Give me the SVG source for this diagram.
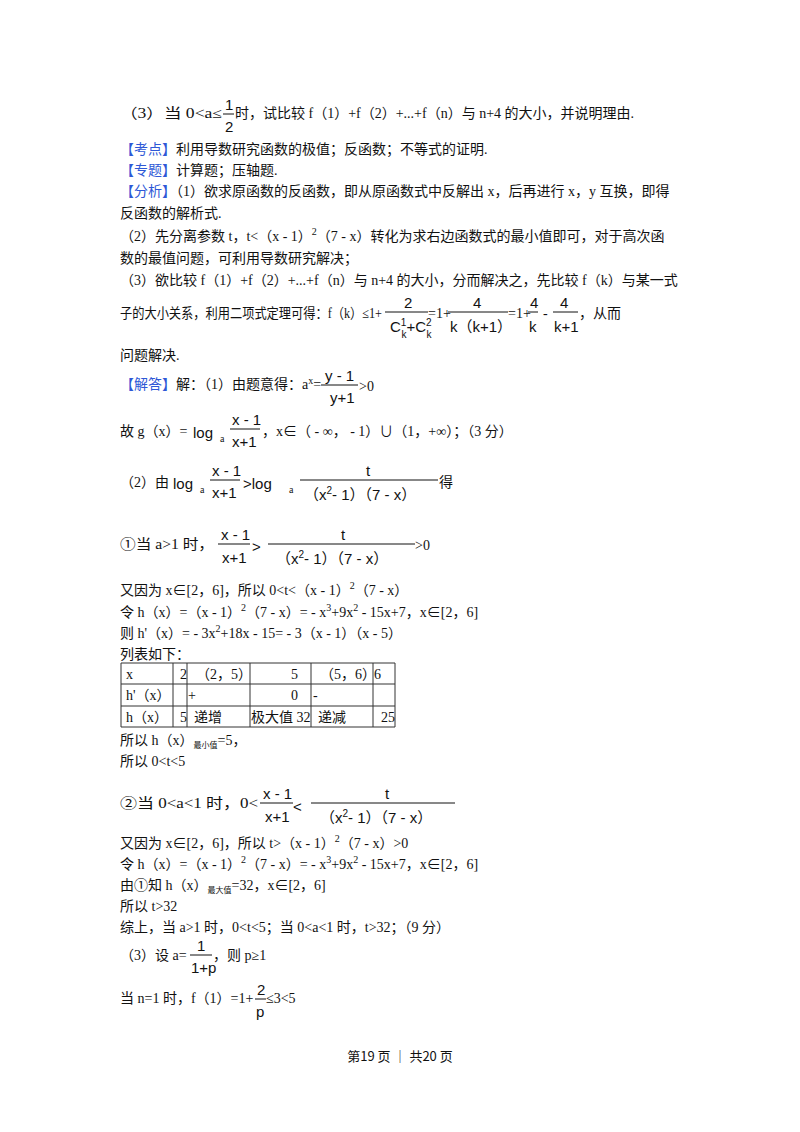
<svg xmlns="http://www.w3.org/2000/svg" width="800" height="1132" viewBox="0 0 800 1132">
<style>
text{font-family:"Liberation Serif","Noto Sans CJK SC",serif;font-size:14px;fill:#111}
.b{fill:#2e58d6}
.s{font-size:10px}
.t{font-size:8px}
.f{font-family:"Liberation Sans","Noto Sans CJK SC",sans-serif;font-size:15px}
line{stroke:#111;stroke-width:1}
.tb line{stroke:#333}
</style>
<rect width="800" height="1132" fill="#fff"/>
<text x="120" y="118" textLength="102" lengthAdjust="spacingAndGlyphs">（3）当 0&lt;a≤</text><text x="225" y="110" class="f">1</text><line x1="223" y1="114" x2="234" y2="114"/><text x="225" y="132" class="f">2</text><text x="235" y="118">时，试比较 f（1）+f（2）+...+f（n）与 n+4 的大小，并说明理由.</text>
<text x="120" y="154"><tspan class="b">【考点】</tspan>利用导数研究函数的极值；反函数；不等式的证明.</text>
<text x="120" y="175"><tspan class="b">【专题】</tspan>计算题；压轴题.</text>
<text x="120" y="196"><tspan class="b">【分析】</tspan>（1）欲求原函数的反函数，即从原函数式中反解出 x，后再进行 x，y 互换，即得</text>
<text x="120" y="218">反函数的解析式.</text>
<text x="120" y="241">（2）先分离参数 t，t&lt;（x - 1）<tspan class="s" dy="-6">2</tspan><tspan dy="6">（7 - x）转化为求右边函数式的最小值即可，对于高次函</tspan></text>
<text x="120" y="263">数的最值问题，可利用导数研究解决；</text>
<text x="120" y="285">（3）欲比较 f（1）+f（2）+...+f（n）与 n+4 的大小，分而解决之，先比较 f（k）与某一式</text>
<text x="120" y="318" textLength="262" lengthAdjust="spacingAndGlyphs">子的大小关系，利用二项式定理可得：f（k）≤1+</text>
<text x="404" y="308" class="f">2</text><line x1="385" y1="312" x2="428" y2="312"/><text x="390" y="332" class="f">C<tspan class="s" dy="-6">1</tspan><tspan class="s" dx="-5" dy="12">k</tspan><tspan dy="-6">+C</tspan><tspan class="s" dy="-6">2</tspan><tspan class="s" dx="-5" dy="12">k</tspan></text>
<text x="428" y="318">=1+</text><text x="473" y="308" class="f">4</text><line x1="448" y1="312" x2="508" y2="312"/><text x="450" y="332" class="f">k（k+1）</text>
<text x="508" y="318">=1+</text><text x="530" y="308" class="f">4</text><line x1="528" y1="312" x2="538" y2="312"/><text x="529" y="332" class="f">k</text>
<text x="543" y="318">-</text><text x="560" y="308" class="f">4</text><line x1="553" y1="312" x2="578" y2="312"/><text x="554" y="332" class="f">k+1</text>
<text x="579" y="318">，从而</text>
<text x="120" y="360">问题解决.</text>
<text x="120" y="389"><tspan class="b">【解答】</tspan>解：（1）由题意得：a<tspan class="s" dy="-5">x</tspan><tspan dy="5">=</tspan></text>
<text x="325" y="381" class="f">y - 1</text><line x1="321" y1="385" x2="358" y2="385"/><text x="330" y="403" class="f">y+1</text><text x="359" y="391">&gt;0</text>
<text x="120" y="436">故 g（x）=</text><text x="193" y="438" class="f">log</text><text x="220" y="442" class="s">a</text><text x="232" y="425" class="f">x - 1</text><line x1="230" y1="429" x2="260" y2="429"/><text x="232" y="447" class="f">x+1</text>
<text x="262" y="436">，x∈（ - ∞， - 1）∪（1，+∞）；（3 分）</text>
<text x="120" y="487">（2）由</text><text x="173" y="489" class="f">log</text><text x="200" y="493" class="s">a</text><text x="212" y="476" class="f">x - 1</text><line x1="210" y1="480" x2="240" y2="480"/><text x="212" y="498" class="f">x+1</text>
<text x="243" y="489" class="f">&gt;log</text><text x="289" y="493" class="s">a</text><text x="366" y="476" class="f">t</text><line x1="300" y1="480" x2="438" y2="480"/><text x="304" y="500" class="f">（x<tspan class="s" dy="-6">2</tspan><tspan dy="6">- 1）（7 - x）</tspan></text><text x="439" y="487">得</text>
<text x="120" y="549" textLength="94" lengthAdjust="spacingAndGlyphs">①当 a&gt;1 时，</text><text x="221" y="540" class="f">x - 1</text><line x1="218" y1="544" x2="250" y2="544"/><text x="222" y="563" class="f">x+1</text>
<text x="252" y="552" class="f">&gt;</text><text x="341" y="540" class="f">t</text><line x1="268" y1="544" x2="415" y2="544"/><text x="276" y="564" class="f">（x<tspan class="s" dy="-6">2</tspan><tspan dy="6">- 1）（7 - x）</tspan></text><text x="415" y="550">&gt;0</text>
<text x="120" y="595">又因为 x∈[2，6]，所以 0&lt;t&lt;（x - 1）<tspan class="s" dy="-6">2</tspan><tspan dy="6">（7 - x）</tspan></text>
<text x="120" y="617">令 h（x）=（x - 1）<tspan class="s" dy="-6">2</tspan><tspan dy="6">（7 - x）= - x</tspan><tspan class="s" dy="-6">3</tspan><tspan dy="6">+9x</tspan><tspan class="s" dy="-6">2</tspan><tspan dy="6"> - 15x+7，x∈[2，6]</tspan></text>
<text x="120" y="638">则 h'（x）= - 3x<tspan class="s" dy="-6">2</tspan><tspan dy="6">+18x - 15= - 3（x - 1）（x - 5）</tspan></text>
<text x="120" y="659">列表如下：</text>
<g class="tb">
<line x1="121" y1="663" x2="395" y2="663"/><line x1="121" y1="684" x2="395" y2="684"/><line x1="121" y1="706" x2="395" y2="706"/><line x1="121" y1="727" x2="395" y2="727"/>
<line x1="121" y1="663" x2="121" y2="727"/><line x1="173" y1="663" x2="173" y2="727"/><line x1="187" y1="663" x2="187" y2="727"/><line x1="250" y1="663" x2="250" y2="727"/><line x1="311" y1="663" x2="311" y2="727"/><line x1="373" y1="663" x2="373" y2="727"/><line x1="395" y1="663" x2="395" y2="727"/>
</g>
<text x="126" y="679">x</text><text x="180" y="679">2</text><text x="196" y="679">（2，5）</text><text x="291" y="679">5</text><text x="320" y="679">（5，6）</text><text x="374" y="679">6</text>
<text x="126" y="700">h'（x）</text><text x="188" y="700">+</text><text x="291" y="700">0</text><text x="313" y="700">-</text>
<text x="126" y="722">h（x）</text><text x="180" y="722">5</text><text x="194" y="722">递增</text><text x="251" y="722">极大值 32</text><text x="318" y="722">递减</text><text x="381" y="722">25</text>
<text x="120" y="745">所以 h（x）<tspan class="t" dy="3">最小值</tspan><tspan dy="-3">=5，</tspan></text>
<text x="120" y="766">所以 0&lt;t&lt;5</text>
<text x="120" y="808" textLength="138" lengthAdjust="spacingAndGlyphs">②当 0&lt;a&lt;1 时，0&lt;</text><text x="263" y="799" class="f">x - 1</text><line x1="260" y1="803" x2="293" y2="803"/><text x="265" y="822" class="f">x+1</text>
<text x="293" y="812" class="f">&lt;</text><text x="385" y="799" class="f">t</text><line x1="311" y1="803" x2="455" y2="803"/><text x="320" y="823" class="f">（x<tspan class="s" dy="-6">2</tspan><tspan dy="6">- 1）（7 - x）</tspan></text>
<text x="120" y="848">又因为 x∈[2，6]，所以 t&gt;（x - 1）<tspan class="s" dy="-6">2</tspan><tspan dy="6">（7 - x）&gt;0</tspan></text>
<text x="120" y="869">令 h（x）=（x - 1）<tspan class="s" dy="-6">2</tspan><tspan dy="6">（7 - x）= - x</tspan><tspan class="s" dy="-6">3</tspan><tspan dy="6">+9x</tspan><tspan class="s" dy="-6">2</tspan><tspan dy="6"> - 15x+7，x∈[2，6]</tspan></text>
<text x="120" y="890">由①知 h（x）<tspan class="t" dy="3">最大值</tspan><tspan dy="-3">=32，x∈[2，6]</tspan></text>
<text x="120" y="911">所以 t&gt;32</text>
<text x="120" y="932">综上，当 a&gt;1 时，0&lt;t&lt;5；当 0&lt;a&lt;1 时，t&gt;32；（9 分）</text>
<text x="120" y="960">（3）设 a=</text><text x="197" y="951" class="f">1</text><line x1="190" y1="955" x2="212" y2="955"/><text x="191" y="973" class="f">1+p</text><text x="213" y="960">，则 p≥1</text>
<text x="120" y="1003">当 n=1 时，f（1）=1+</text><text x="257" y="995" class="f">2</text><line x1="255" y1="999" x2="266" y2="999"/><text x="256" y="1017" class="f">p</text><text x="266" y="1003">≤3&lt;5</text>
<text x="400" y="1061" text-anchor="middle" style="font-family:'Noto Sans CJK SC',sans-serif;font-size:13px">第19 页 ｜ 共20 页</text>
</svg>
